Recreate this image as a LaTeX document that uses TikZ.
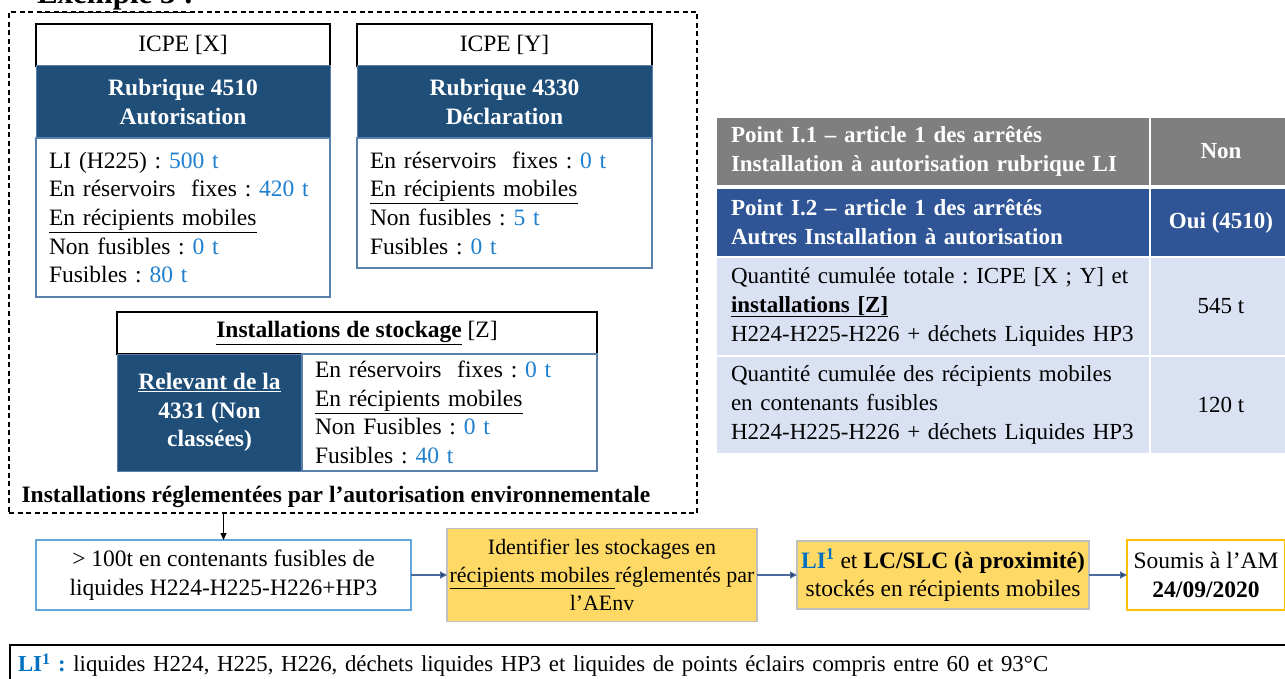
\documentclass[tikz,border=0pt]{standalone}
\usepackage{fontspec}
\setmainfont{Liberation Serif}
\frenchspacing
\usetikzlibrary{positioning,arrows.meta}
\definecolor{bandblue}{HTML}{1F4E79}
\definecolor{edgeblue}{HTML}{5A7FAB}
\definecolor{valblue}{HTML}{1F80D0}
\definecolor{liblue}{HTML}{0070C0}
\definecolor{rowgray}{HTML}{7F7F7F}
\definecolor{rowblue}{HTML}{2F5597}
\definecolor{rowlight}{HTML}{D9E1F2}
\definecolor{goldfill}{HTML}{FFD966}
\definecolor{goldedge}{HTML}{FFC000}
\definecolor{linkblue}{HTML}{4A6A9A}
\definecolor{tipnavy}{HTML}{1F3864}
\newcommand{\val}[1]{\textcolor{valblue}{#1}}
\newcommand{\txt}{\fontsize{23.5}{28.6}\selectfont}
\newcommand{\tab}{\fontsize{23}{29}\selectfont}
\begin{document}
\begin{tikzpicture}[x=1pt,y=-1pt,font=\txt,
 every node/.style={inner sep=0pt,outer sep=0pt},
 hdr/.style={draw=black,line width=1.5pt,fill=white,anchor=north west,minimum height=42pt},
 band/.style={fill=bandblue,draw=edgeblue,line width=1pt,text=white,font=\txt\bfseries,align=center},
 body/.style={draw=edgeblue,line width=1.2pt,fill=white,align=left,inner xsep=13pt},
 flow/.style={align=center,line width=1.5pt,minimum height=#1},
 link/.style={-{Triangle[length=7pt,width=7pt,fill=tipnavy]},draw=linkblue,line width=1.2pt},
 cell/.style={anchor=north west,inner xsep=14pt,align=left,text width=404pt,font=\tab},
 yes/.style={anchor=north west,minimum width=140pt,align=center,font=\tab}]
\useasboundingbox (0,0) rectangle (1285,679);
\node[anchor=base west,font=\fontsize{31}{34}\selectfont\bfseries] (title) at (37,4) {\underline{Exemple 3 :}};
\node[draw,dashed,dash pattern=on 5pt off 3.5pt,line width=1.2pt,anchor=north west,minimum width=688pt,minimum height=501pt] (zone) at (9,12) {};
% ICPE X
\node[hdr,minimum width=294pt] (hx) at (36,24) {ICPE [X]};
\node[band,below=0pt of hx,minimum width=294pt,minimum height=72pt] (bx) {Rubrique 4510\\Autorisation};
\node[body,below=0pt of bx,text width=268pt,minimum height=159pt] (cx) {LI (H225) : \val{500 t}\\En réservoirs\ \ fixes : \val{420 t}\\\underline{En récipients mobiles}\\Non fusibles : \val{0 t}\\Fusibles : \val{80 t}};
% ICPE Y
\node[hdr,minimum width=295pt] (hy) at (357,24) {ICPE [Y]};
\node[band,below=0pt of hy,minimum width=295pt,minimum height=72pt] (by) {Rubrique 4330\\Déclaration};
\node[body,below=0pt of by,text width=269pt,minimum height=130pt] (cy) {En réservoirs\ \ fixes : \val{0 t}\\\underline{En récipients mobiles}\\Non fusibles : \val{5 t}\\Fusibles : \val{0 t}};
% stockage Z
\node[hdr,minimum width=480pt] (hz) at (117,312) {\textbf{\underline{Installations de stockage}} [Z]};
\node[band,anchor=north west,minimum width=185pt,minimum height=117pt] (bz) at (117,354) {\underline{Relevant de la}\\4331 (Non\\classées)};
\node[body,right=0pt of bz,text width=269pt,minimum height=117pt] (cz) {En réservoirs\ \ fixes : \val{0 t}\\\underline{En récipients mobiles}\\Non Fusibles : \val{0 t}\\Fusibles : \val{40 t}};
\node[font=\txt\bfseries] (zlabel) at (336,497) {Installations réglementées par l’autorisation environnementale};
% tableau
\node[cell,fill=rowgray,text=white,font=\tab\bfseries,minimum height=67pt] (p1) at (717,118) {Point I.1 – article 1 des arrêtés\\Installation à autorisation rubrique LI};
\node[yes,fill=rowgray,text=white,font=\tab\bfseries,minimum height=67pt] (r1) at (1151,118) {Non};
\node[cell,fill=rowblue,text=white,font=\tab\bfseries,minimum height=67pt] (p2) at (717,189) {Point I.2 – article 1 des arrêtés\\Autres Installation à autorisation};
\node[yes,fill=rowblue,text=white,font=\tab\bfseries,minimum height=67pt] (r2) at (1151,189) {Oui (4510)};
\node[cell,fill=rowlight,minimum height=97pt] (p3) at (717,258) {Quantité cumulée totale : ICPE [X ; Y] et\\\textbf{\underline{installations [Z]}}\\H224-H225-H226 + déchets Liquides HP3};
\node[yes,fill=rowlight,minimum height=97pt] (r3) at (1151,258) {545 t};
\node[cell,fill=rowlight,minimum height=96pt] (p4) at (717,357) {Quantité cumulée des récipients mobiles\\en contenants fusibles\\H224-H225-H226 + déchets Liquides HP3};
\node[yes,fill=rowlight,minimum height=96pt] (r4) at (1151,357) {120 t};
% chaine
\node[flow=70pt,draw=valblue!70,anchor=west,minimum width=375pt] (b1) at (36,575) {> 100t en contenants fusibles de\\liquides H224-H225-H226+HP3};
\node[flow=93pt,draw=black!25,fill=goldfill,right=36pt of b1,minimum width=310pt,font=\fontsize{21.9}{28}\selectfont] (b2) {Identifier les stockages en\\\underline{récipients mobiles }réglementés par\\l’AEnv};
\node[flow=68pt,draw=black!25,fill=goldfill,right=40pt of b2,minimum width=292pt] (b3) {\textbf{\textcolor{liblue}{LI\textsuperscript{1}}} et \textbf{LC/SLC (à proximité)}\\stockés en récipients mobiles};
\node[flow=70pt,draw=goldedge,right=38pt of b3,minimum width=158pt] (b4) {Soumis à l’AM\\\textbf{24/09/2020}};
\draw[-{Triangle[length=7pt,width=6pt]},line width=0.8pt] (zone.south -| b1.north) -- (b1.north);
\draw[link] (b1) -- (b2);
\draw[link] (b2) -- (b3);
\draw[link] (b3) -- (b4);
\node[draw=black,line width=2pt,anchor=north west,text width=1272pt,minimum height=40pt,align=left,inner xsep=8pt,font=\fontsize{22.8}{26}\selectfont] (note) at (10,645) {\textbf{\textcolor{liblue}{LI\textsuperscript{1} :}} liquides H224, H225, H226, déchets liquides HP3 et liquides de points éclairs compris entre 60 et 93°C};
\end{tikzpicture}
\end{document}
